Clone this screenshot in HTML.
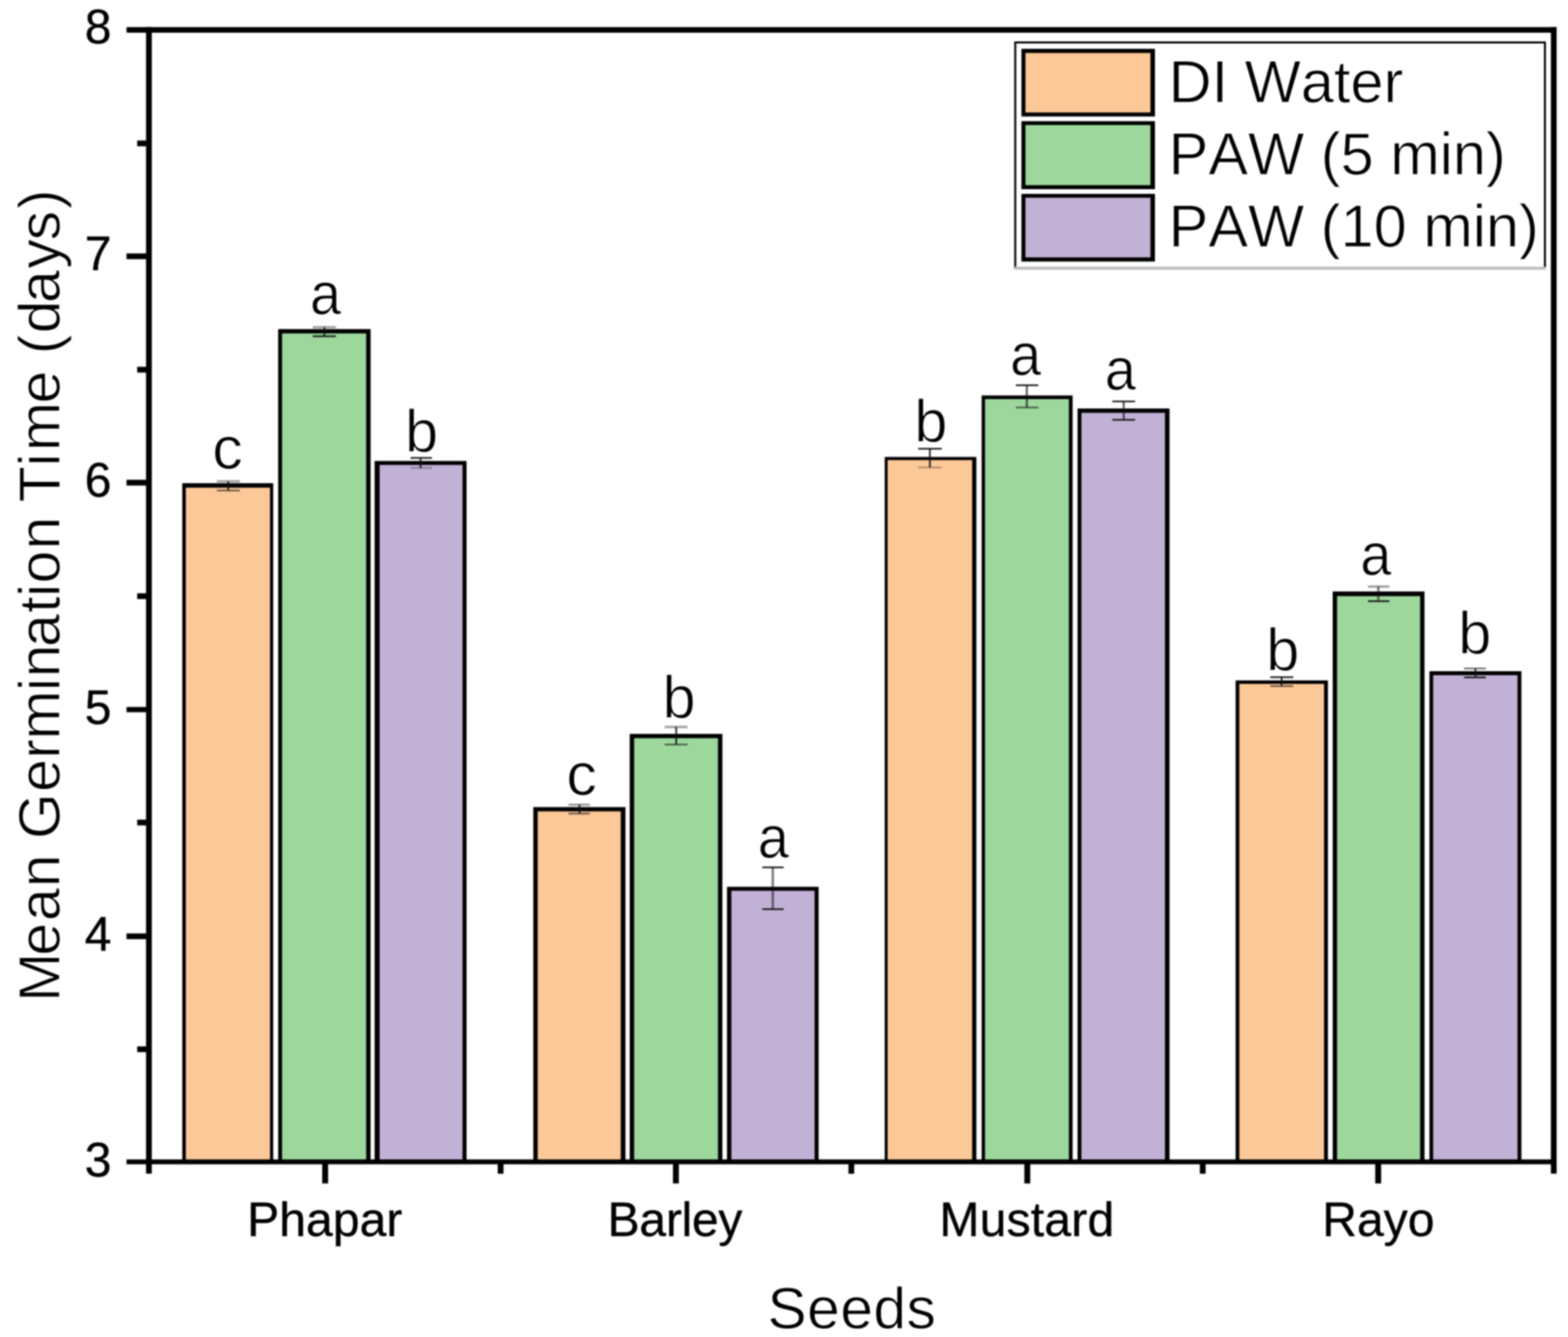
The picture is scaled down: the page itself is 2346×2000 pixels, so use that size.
<!DOCTYPE html>
<html lang="en">
<head>
<meta charset="utf-8">
<title>Mean Germination Time</title>
<style>
html,body{margin:0;padding:0;background:#fff;}
body{width:2346px;height:2000px;overflow:hidden;}
svg{display:block;filter:blur(1px);}
</style>
</head>
<body>
<svg width="2346" height="2000" viewBox="0 0 2346 2000">
<rect width="2346" height="2000" fill="#fff"/>
<g id="bars">
<rect x="272.7" y="722.8" width="136.1" height="1015.2" fill="#000"/>
<rect x="278" y="729.5" width="126" height="1008.5" fill="#FCC897"/>
<rect x="416.2" y="492.3" width="138.3" height="1245.7" fill="#000"/>
<rect x="422" y="498.75" width="125.8" height="1239.25" fill="#9DD79C"/>
<rect x="560.45" y="689.55" width="137.6" height="1048.45" fill="#000"/>
<rect x="568" y="695.5" width="124" height="1042.5" fill="#C2B1D6"/>
<rect x="797.95" y="1207.3" width="137.85" height="530.7" fill="#000"/>
<rect x="804.5" y="1213.75" width="124.25" height="524.25" fill="#FCC897"/>
<rect x="942.2" y="1097.8" width="138.6" height="640.2" fill="#000"/>
<rect x="948.75" y="1104.25" width="125.5" height="633.75" fill="#9DD79C"/>
<rect x="1087.7" y="1326.55" width="137.1" height="411.45" fill="#000"/>
<rect x="1094.25" y="1332.5" width="124.5" height="405.5" fill="#C2B1D6"/>
<rect x="1323.7" y="683.55" width="137.1" height="1054.45" fill="#000"/>
<rect x="1328" y="688.25" width="126.5" height="1049.75" fill="#FCC897"/>
<rect x="1468.7" y="591.55" width="136.1" height="1146.45" fill="#000"/>
<rect x="1473.75" y="597" width="125.5" height="1141" fill="#9DD79C"/>
<rect x="1612.2" y="611.05" width="137.6" height="1126.95" fill="#000"/>
<rect x="1618" y="617.5" width="125" height="1120.5" fill="#C2B1D6"/>
<rect x="1848.7" y="1017.8" width="138.1" height="720.2" fill="#000"/>
<rect x="1854.25" y="1023" width="126.75" height="715" fill="#FCC897"/>
<rect x="1993.95" y="884.8" width="137.35" height="853.2" fill="#000"/>
<rect x="2000.5" y="891.75" width="124.25" height="846.25" fill="#9DD79C"/>
<rect x="2138.7" y="1004.05" width="137.6" height="733.95" fill="#000"/>
<rect x="2144.25" y="1010" width="126.25" height="728" fill="#C2B1D6"/>
</g>
<g id="errorbars" stroke="#111" fill="none">
<path d="M341.5 720V733.75" stroke-width="2.6" stroke-opacity="0.9"/>
<path d="M324.5 720H358.75" stroke-width="3.4" stroke-opacity="0.4"/>
<path d="M324.5 733.75H358.75" stroke-width="2.6" stroke-opacity="0.62"/>
<path d="M485.25 489.5V503" stroke-width="2.6" stroke-opacity="0.9"/>
<path d="M468 489.5H502.5" stroke-width="3.4" stroke-opacity="0.4"/>
<path d="M468 503H502.5" stroke-width="2.4" stroke-opacity="0.95"/>
<path d="M629.25 685V700" stroke-width="2.6" stroke-opacity="0.9"/>
<path d="M614.25 685H646.25" stroke-width="2.4" stroke-opacity="0.95"/>
<path d="M614.25 700H646.25" stroke-width="2.6" stroke-opacity="0.32"/>
<path d="M867 1203.75V1217" stroke-width="2.6" stroke-opacity="0.9"/>
<path d="M850.5 1203.75H882.5" stroke-width="3.4" stroke-opacity="0.4"/>
<path d="M850.5 1217H882.5" stroke-width="2.6" stroke-opacity="0.62"/>
<path d="M1011.75 1087.5V1113.75" stroke-width="2.6" stroke-opacity="0.9"/>
<path d="M994.5 1087.5H1028.75" stroke-width="3.4" stroke-opacity="0.4"/>
<path d="M994.5 1113.75H1028.75" stroke-width="2.6" stroke-opacity="0.62"/>
<path d="M1156.25 1297.5V1360" stroke-width="3.6" stroke-opacity="0.55"/>
<path d="M1140.5 1297.5H1172.5" stroke-width="2.4" stroke-opacity="0.95"/>
<path d="M1140.5 1360H1172.5" stroke-width="2.4" stroke-opacity="0.95"/>
<path d="M1391.25 671.25V699.25" stroke-width="2.6" stroke-opacity="0.9"/>
<path d="M1373.75 671.25H1409" stroke-width="2.4" stroke-opacity="0.95"/>
<path d="M1373.75 699.25H1409" stroke-width="2.6" stroke-opacity="0.32"/>
<path d="M1536.25 576.25V609.5" stroke-width="3.0" stroke-opacity="0.7"/>
<path d="M1520 576.25H1553.5" stroke-width="2.4" stroke-opacity="0.95"/>
<path d="M1520 609.5H1553.5" stroke-width="2.6" stroke-opacity="0.62"/>
<path d="M1681.25 600.5V628" stroke-width="3.0" stroke-opacity="0.7"/>
<path d="M1664.25 600.5H1698.25" stroke-width="2.4" stroke-opacity="0.95"/>
<path d="M1664.25 628H1698.25" stroke-width="2.4" stroke-opacity="0.95"/>
<path d="M1917.5 1013V1026.25" stroke-width="2.6" stroke-opacity="0.9"/>
<path d="M1900.5 1013H1935" stroke-width="2.4" stroke-opacity="0.95"/>
<path d="M1900.5 1026.25H1935" stroke-width="2.6" stroke-opacity="0.62"/>
<path d="M2062.25 877.5V899.25" stroke-width="3.6" stroke-opacity="0.55"/>
<path d="M2046.75 877.5H2078.75" stroke-width="3.4" stroke-opacity="0.4"/>
<path d="M2046.75 899.25H2078.75" stroke-width="2.4" stroke-opacity="0.95"/>
<path d="M2207.5 1000V1013.25" stroke-width="2.6" stroke-opacity="0.9"/>
<path d="M2190.5 1000H2223" stroke-width="2.6" stroke-opacity="0.62"/>
<path d="M2190.5 1013.25H2223" stroke-width="2.4" stroke-opacity="0.95"/>
</g>
<g id="axes" fill="#000">
<rect x="189.3" y="40.6" width="2139.7" height="8.3"/>
<rect x="189.3" y="1734.4" width="2139.7" height="7.2"/>
<rect x="218.5" y="40.6" width="8.6" height="1715"/>
<rect x="2320.4" y="40.6" width="8.6" height="1715"/>
<rect x="189.3" y="1396.3" width="32" height="8.6"/>
<rect x="189.3" y="1057.6" width="32" height="7.8"/>
<rect x="189.3" y="717.7" width="32" height="8.6"/>
<rect x="189.3" y="379.1" width="32" height="8.6"/>
<rect x="205.3" y="1565.3" width="16" height="8.6"/>
<rect x="205.3" y="1226.1" width="16" height="8.6"/>
<rect x="205.3" y="887.5" width="16" height="8.6"/>
<rect x="205.3" y="548.7" width="16" height="8.6"/>
<rect x="205.3" y="210.2" width="16" height="8.6"/>
<rect x="482.1" y="1738.0" width="8.8" height="32.3"/>
<rect x="1006.85" y="1738.0" width="8.8" height="32.3"/>
<rect x="1532.6" y="1738.0" width="8.8" height="32.3"/>
<rect x="2057.6" y="1738.0" width="8.8" height="32.3"/>
<rect x="744.7" y="1738.0" width="8.6" height="17.8"/>
<rect x="1269.45" y="1738.0" width="8.6" height="17.8"/>
<rect x="1795.2" y="1738.0" width="8.6" height="17.8"/>
</g>
<g id="labels" font-family="'Liberation Sans', Arial, sans-serif" fill="#000" stroke="#fff" stroke-width="1.4" style="font-kerning:none">
<g font-size="72" text-anchor="end" stroke="#000" stroke-width="0.5">
<text x="166.8" y="1760.0">3</text>
<text x="166.8" y="1421.5">4</text>
<text x="166.8" y="1082.7">5</text>
<text x="166.8" y="743.4">6</text>
<text x="166.8" y="404.4">7</text>
<text x="166.8" y="64.5">8</text>
</g>
<g font-size="72" stroke="#000" stroke-width="0.5">
<text x="485.875" y="1849.2" text-anchor="middle">Phapar</text>
<text x="1009.88" y="1849.2" text-anchor="middle" textLength="201.6" lengthAdjust="spacing">Barley</text>
<text x="1536.28" y="1849.2" text-anchor="middle" textLength="261.6" lengthAdjust="spacing">Mustard</text>
<text x="2062.38" y="1849.2" text-anchor="middle">Rayo</text>
</g>
<g font-size="89" stroke-width="1.2">
<text x="317.6" y="701.2" textLength="45.8" lengthAdjust="spacingAndGlyphs">c</text>
<text x="463.8" y="469.9" textLength="46.5" lengthAdjust="spacingAndGlyphs">a</text>
<text x="605.9" y="676.2">b</text>
<text x="847.2" y="1189.2" textLength="45.8" lengthAdjust="spacingAndGlyphs">c</text>
<text x="991.2" y="1074.2">b</text>
<text x="1133.8" y="1283.0" textLength="46.5" lengthAdjust="spacingAndGlyphs">a</text>
<text x="1368.0" y="660.7">b</text>
<text x="1511.2" y="560.7" textLength="46.5" lengthAdjust="spacingAndGlyphs">a</text>
<text x="1653.0" y="583.0" textLength="46.5" lengthAdjust="spacingAndGlyphs">a</text>
<text x="1894.5" y="1002.5">b</text>
<text x="2035.2" y="860.0" textLength="46.5" lengthAdjust="spacingAndGlyphs">a</text>
<text x="2181.7" y="978.2">b</text>
</g>
<text font-size="88" text-anchor="middle" stroke-width="1" letter-spacing="0.6" x="1274.6" y="1986.5">Seeds</text>
<text font-size="88" letter-spacing="0.16" stroke-width="1.1" transform="translate(88.8 1498.4) rotate(-90)" dx="0 -4.5 2.5 1.5 -0.7 -0.7 1.9 0.4 -0.8 -1.1 0.75 -3.5 2 -0.85 0.5 1.6 -1.5 -1.4 -0.5 3.3 -2.3 0.1 0.05 1.65 -3.8 2.4 -2 2.6">Mean Germination Time (days)</text>
</g>
<g id="legend">
<rect x="1519" y="63.5" width="792.5" height="337.5" fill="#fff" stroke="#000" stroke-width="3"/>
<rect x="1518" y="399" width="795" height="4.5" fill="#bdbdbd"/>
<rect x="1528.25" y="73" width="199.75" height="101.25" fill="#000"/>
<rect x="1534.25" y="79.25" width="187" height="89" fill="#FCC897"/>
<text font-family="'Liberation Sans', Arial, sans-serif" style="font-kerning:none" stroke="#fff" stroke-width="1.1" font-size="89" x="1748.6" y="152.8">DI Water</text>
<rect x="1528.25" y="181.25" width="199.75" height="101.75" fill="#000"/>
<rect x="1534.25" y="187" width="187" height="90" fill="#9DD79C"/>
<text font-family="'Liberation Sans', Arial, sans-serif" style="font-kerning:none" stroke="#fff" stroke-width="1.1" font-size="89" x="1748.6" y="261.2">PAW (5 min)</text>
<rect x="1528.25" y="290" width="199.75" height="101.25" fill="#000"/>
<rect x="1534.25" y="295.75" width="187" height="89.25" fill="#C2B1D6"/>
<text font-family="'Liberation Sans', Arial, sans-serif" style="font-kerning:none" stroke="#fff" stroke-width="1.1" font-size="89" x="1748.6" y="368.7">PAW (10 min)</text>
</g>
</svg>
</body>
</html>
